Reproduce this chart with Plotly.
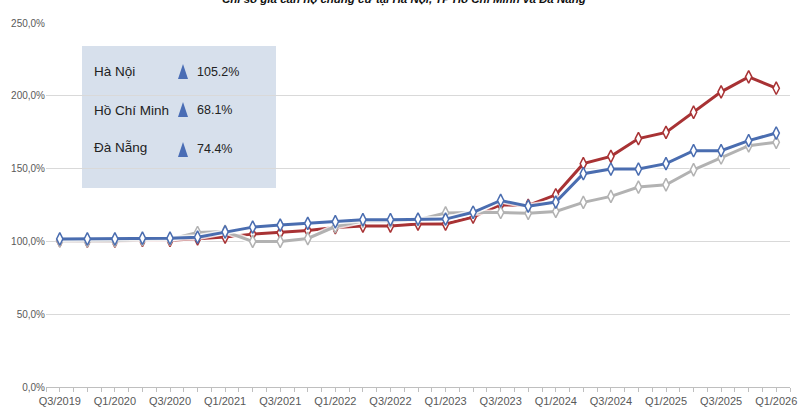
import plotly.graph_objects as go

quarters = ["Q3/2019", "Q4/2019", "Q1/2020", "Q2/2020", "Q3/2020", "Q4/2020",
            "Q1/2021", "Q2/2021", "Q3/2021", "Q4/2021", "Q1/2022", "Q2/2022",
            "Q3/2022", "Q4/2022", "Q1/2023", "Q2/2023", "Q3/2023", "Q4/2023",
            "Q1/2024", "Q2/2024", "Q3/2024", "Q4/2024", "Q1/2025", "Q2/2025",
            "Q3/2025", "Q4/2025", "Q1/2026"]

ha_noi = [100.5, 100.2, 100.2, 100.8, 100.8, 101.8, 103.0, 105.0, 106.0, 107.5,
          109.5, 110.5, 110.5, 111.9, 111.9, 116.7, 125.2, 124.7, 132.0, 153.4,
          158.4, 170.6, 174.9, 188.7, 202.7, 213.0, 205.2]
da_nang = [101.7, 101.7, 101.7, 102.2, 102.2, 102.9, 106.5, 109.8, 111.2, 112.4,
           113.5, 114.9, 114.9, 115.3, 115.3, 120.0, 128.1, 124.2, 127.0, 146.5,
           149.7, 149.7, 153.4, 162.3, 162.3, 169.2, 174.4]
hcm = [100.4, 100.3, 100.5, 101.3, 101.5, 106.1, 106.8, 100.0, 100.0, 102.0,
       110.2, 114.0, 114.0, 114.9, 119.5, 119.9, 119.9, 119.3, 120.6, 126.8,
       130.9, 137.3, 138.9, 149.2, 157.3, 165.7, 168.1]

y_ticks = [0, 50, 100, 150, 200, 250]
y_tick_labels = ["0,0%", "50,0%", "100,0%", "150,0%", "200,0%", "250,0%"]

box_names = ["Hà Nội", "Hồ Chí Minh", "Đà Nẵng"]
box_changes = ["105.2%", "68.1%", "74.4%"]

title_text = "Chỉ số giá căn hộ chung cư tại Hà Nội, TP Hồ Chí Minh và Đà Nẵng"

FONT = "Liberation Sans, Arial, sans-serif"

W, H = 800, 420
ML, MR, MT, MB = 46, 10, 23, 33
PW, PH = W - ML - MR, H - MT - MB


def px(x):
    return (x - ML) / PW


def py(y):
    return (H - MB - y) / PH


x_idx = list(range(len(quarters)))

fig = go.Figure()
series = [("Hà Nội", ha_noi, "#A83234"), ("Hồ Chí Minh", hcm, "#B2B2B2"),
          ("Đà Nẵng", da_nang, "#4A6DB0")]
for name, vals, col in series:
    fig.add_trace(go.Scatter(
        x=x_idx, y=vals, mode="lines", name=name,
        line=dict(color="rgba(255,255,255,0.8)", width=6),
        hoverinfo="skip", showlegend=False))
    fig.add_trace(go.Scatter(
        x=x_idx, y=vals, mode="lines+markers", name=name,
        line=dict(color=col, width=3),
        marker=dict(symbol="diamond-tall", size=9, color="white",
                    line=dict(color=col, width=1.5)),
        showlegend=False))

shapes = [dict(type="rect", xref="paper", yref="paper",
               x0=px(82), x1=px(276), y0=py(188), y1=py(46),
               fillcolor="#D7E0EC", line=dict(width=0), layer="below")]

annotations = []
name_y = [72, 110, 147]
tri_y = [72, 110, 150]
pct_y = [72, 110, 149]
for i in range(3):
    annotations.append(dict(
        x=px(92), y=py(name_y[i]), xref="paper", yref="paper",
        xanchor="left", yanchor="middle", showarrow=False,
        text=box_names[i], font=dict(family=FONT, size=13.5, color="#222222")))
    annotations.append(dict(
        x=px(195), y=py(pct_y[i]), xref="paper", yref="paper",
        xanchor="left", yanchor="middle", showarrow=False,
        text=box_changes[i], font=dict(family=FONT, size=12.5, color="#222222")))
    cx, cy = 183, tri_y[i]
    shapes.append(dict(
        type="path", xref="paper", yref="paper",
        path=f"M {px(cx-5)},{py(cy+7)} L {px(cx+5)},{py(cy+7)} L {px(cx)},{py(cy-8)} Z",
        fillcolor="#4A6DB5", line=dict(width=0)))

annotations.append(dict(
    x=px(404), y=py(-1), xref="paper", yref="paper",
    xanchor="center", yanchor="middle", showarrow=False,
    text=f"<b><i>{title_text}</i></b>",
    font=dict(family=FONT, size=11.5, color="#111111")))

fig.update_layout(
    width=W, height=H,
    margin=dict(l=ML, r=MR, t=MT, b=MB),
    paper_bgcolor="white", plot_bgcolor="white",
    shapes=shapes, annotations=annotations,
    font=dict(family=FONT, color="#595959", size=11),
    xaxis=dict(
        range=[-0.5, len(quarters) - 0.5], automargin=False,
        tickmode="array", tickvals=x_idx[::2], ticktext=quarters[::2],
        showgrid=False, zeroline=False,
        showline=True, linecolor="#BFBFBF", linewidth=1,
        ticks="outside", ticklen=4, tickcolor="#BFBFBF",
        minor=dict(ticks="outside", ticklen=4, tickcolor="#BFBFBF",
                   dtick=0.5, tick0=-0.5, showgrid=False),
        tickfont=dict(family=FONT, size=11, color="#595959"),
    ),
    yaxis=dict(
        range=[0, 250], automargin=False,
        tickmode="array", tickvals=y_ticks, ticktext=y_tick_labels,
        showgrid=True, gridcolor="#D9D9D9", gridwidth=1,
        zeroline=False, showline=False, ticks="",
        tickfont=dict(family=FONT, size=10, color="#595959"),
    ),
)

fig.write_html(
    "out.html",
    config={"displayModeBar": False},
    post_script="document.body.style.margin='0px';document.body.style.overflow='hidden';",
)
